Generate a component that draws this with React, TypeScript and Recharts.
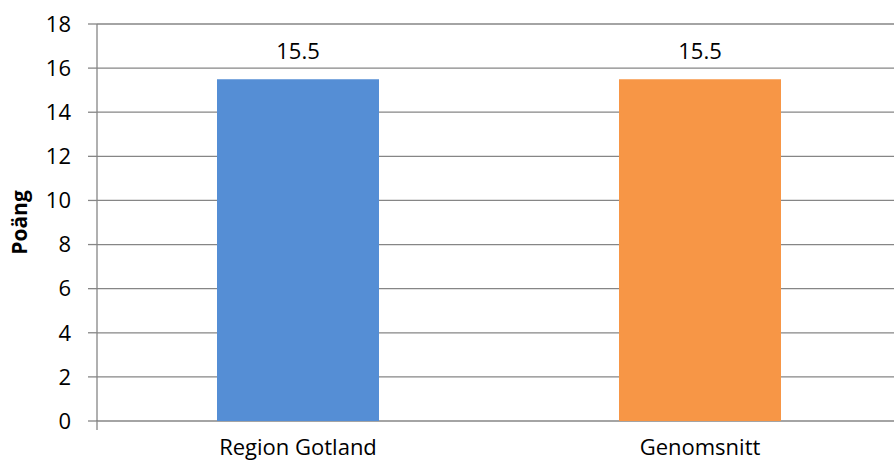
import { BarChart, Bar, XAxis, YAxis, CartesianGrid, LabelList, Cell } from 'recharts'

const categories = ['Region Gotland', 'Genomsnitt']
const points = [15.5, 15.5]
const barColors = ['#558ed5', '#f79646']
const yTicks = [0, 2, 4, 6, 8, 10, 12, 14, 16, 18]
const boundaryTicks = [0, 1, 2]

const data = categories.map((name, i) => ({ name, value: points[i] }))

const AXIS = '#868686'
const FONT = '"Open Sans", Lato, sans-serif'

// tick marks between the categories, like the original
const BoundaryTick = (props: any) => (
  <line x1={props.x} x2={props.x} y1={props.y - 1} y2={props.y + 9} stroke={AXIS} strokeWidth={1.3} />
)

export default function App() {
  return (
    <div style={{ position: 'absolute', left: 0, top: 0, width: 894, height: 470, overflow: 'hidden', background: '#fff' }}>
      <BarChart
        width={920}
        height={470}
        data={data}
        margin={{ top: 24, right: 19, left: 0, bottom: 0 }}
        style={{ fontFamily: FONT }}
      >
        <CartesianGrid vertical={false} stroke={AXIS} strokeWidth={1.3} />
        <XAxis
          xAxisId="bounds"
          type="number"
          domain={[0, 2]}
          ticks={boundaryTicks}
          interval={0}
          height={1}
          axisLine={false}
          tickLine={false}
          tickSize={0}
          tickMargin={0}
          tick={BoundaryTick}
        />
        <XAxis
          xAxisId="cat"
          dataKey="name"
          height={48}
          axisLine={false}
          tickLine={false}
          tickSize={0}
          tickMargin={17}
          tick={{ fontSize: 22, fill: '#000', fontFamily: FONT }}
        />
        <YAxis
          width={97}
          domain={[0, 18]}
          ticks={yTicks}
          interval={0}
          axisLine={{ stroke: AXIS, strokeWidth: 1.3 }}
          tickLine={{ stroke: AXIS, strokeWidth: 1.3 }}
          tickSize={9}
          tickMargin={17}
          tick={{ fontSize: 22, fill: '#000', fontFamily: FONT }}
          label={{
            value: 'Poäng',
            angle: -90,
            position: 'insideLeft',
            offset: 20,
            style: { fontSize: 21, fontWeight: 'bold', fill: '#000', fontFamily: FONT, textAnchor: 'middle' },
          }}
        />
        <Bar xAxisId="cat" dataKey="value" barSize={162} isAnimationActive={false}>
          {data.map((d, i) => (
            <Cell key={d.name} fill={barColors[i]} />
          ))}
          <LabelList
            dataKey="value"
            position="top"
            offset={20}
            formatter={(v: number) => v.toFixed(1)}
            style={{ fontSize: 22, fill: '#000', fontFamily: FONT }}
          />
        </Bar>
      </BarChart>
    </div>
  )
}
